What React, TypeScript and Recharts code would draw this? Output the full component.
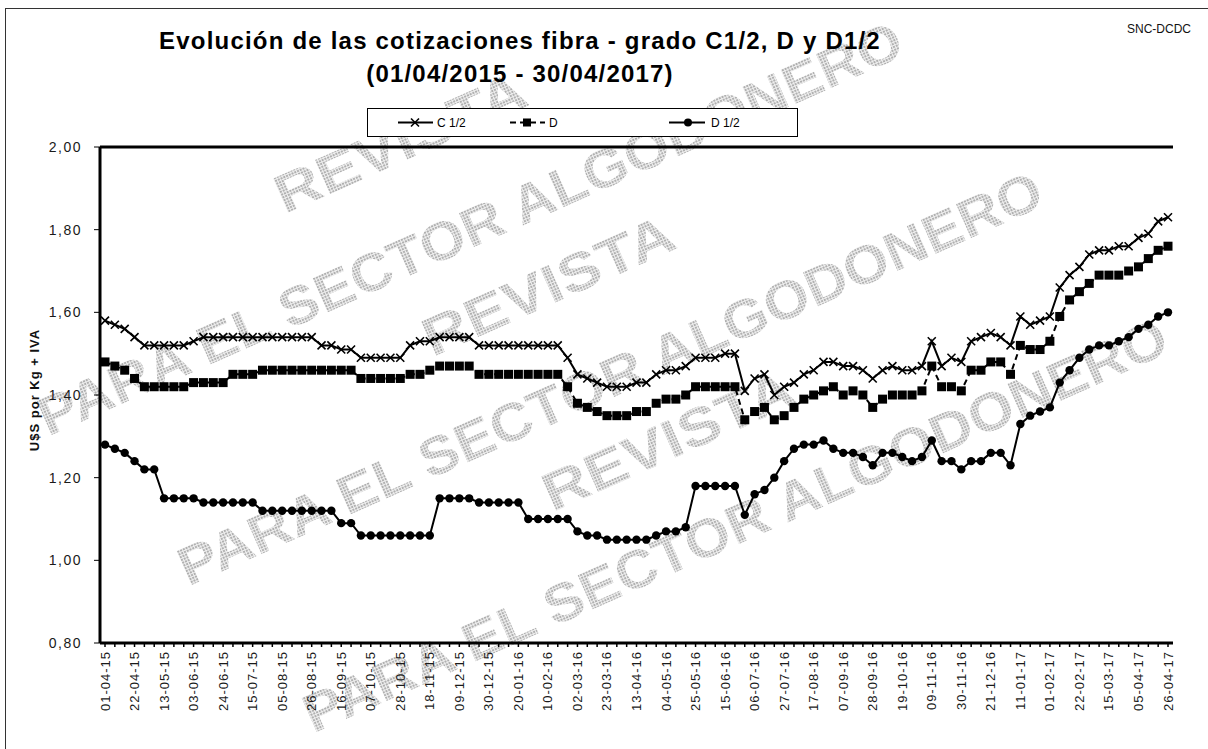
import React from "react";
import { LineChart, Line, XAxis, YAxis, CartesianGrid, ReferenceLine } from "recharts";

// weekly quotations, 01-04-15 .. 26-04-17
const fechas = [
  "01-04-15", "08-04-15", "15-04-15", "22-04-15", "29-04-15", "06-05-15", "13-05-15", "20-05-15", "27-05-15",
  "03-06-15", "10-06-15", "17-06-15", "24-06-15", "01-07-15", "08-07-15", "15-07-15", "22-07-15", "29-07-15",
  "05-08-15", "12-08-15", "19-08-15", "26-08-15", "02-09-15", "09-09-15", "16-09-15", "23-09-15", "30-09-15",
  "07-10-15", "14-10-15", "21-10-15", "28-10-15", "04-11-15", "11-11-15", "18-11-15", "25-11-15", "02-12-15",
  "09-12-15", "16-12-15", "23-12-15", "30-12-15", "06-01-16", "13-01-16", "20-01-16", "27-01-16", "03-02-16",
  "10-02-16", "17-02-16", "24-02-16", "02-03-16", "09-03-16", "16-03-16", "23-03-16", "30-03-16", "06-04-16",
  "13-04-16", "20-04-16", "27-04-16", "04-05-16", "11-05-16", "18-05-16", "25-05-16", "01-06-16", "08-06-16",
  "15-06-16", "22-06-16", "29-06-16", "06-07-16", "13-07-16", "20-07-16", "27-07-16", "03-08-16", "10-08-16",
  "17-08-16", "24-08-16", "31-08-16", "07-09-16", "14-09-16", "21-09-16", "28-09-16", "05-10-16", "12-10-16",
  "19-10-16", "26-10-16", "02-11-16", "09-11-16", "16-11-16", "23-11-16", "30-11-16", "07-12-16", "14-12-16",
  "21-12-16", "28-12-16", "04-01-17", "11-01-17", "18-01-17", "25-01-17", "01-02-17", "08-02-17", "15-02-17",
  "22-02-17", "01-03-17", "08-03-17", "15-03-17", "22-03-17", "29-03-17", "05-04-17", "12-04-17", "19-04-17",
  "26-04-17",
];

const gradoC12 = [
  1.58, 1.57, 1.56, 1.54, 1.52, 1.52, 1.52, 1.52, 1.52, 1.53,
  1.54, 1.54, 1.54, 1.54, 1.54, 1.54, 1.54, 1.54, 1.54, 1.54, 1.54, 1.54,
  1.52, 1.52, 1.51, 1.51,
  1.49, 1.49, 1.49, 1.49, 1.49,
  1.52, 1.53, 1.53,
  1.54, 1.54, 1.54, 1.54,
  1.52, 1.52, 1.52, 1.52, 1.52, 1.52, 1.52, 1.52, 1.52,
  1.49, 1.45, 1.44, 1.43, 1.42, 1.42, 1.42, 1.43, 1.43, 1.45, 1.46, 1.46,
  1.47, 1.49, 1.49, 1.49, 1.50, 1.50, 1.41, 1.44, 1.45, 1.40, 1.42, 1.43,
  1.45, 1.46, 1.48, 1.48, 1.47, 1.47, 1.46, 1.44, 1.46, 1.47, 1.46, 1.46,
  1.47, 1.53, 1.47, 1.49, 1.48, 1.53, 1.54, 1.55, 1.54, 1.52, 1.59, 1.57,
  1.58, 1.59, 1.66, 1.69, 1.71, 1.74, 1.75, 1.75, 1.76, 1.76, 1.78, 1.79,
  1.82, 1.83,
];

const gradoD = [
  1.48, 1.47, 1.46, 1.44,
  1.42, 1.42, 1.42, 1.42, 1.42,
  1.43, 1.43, 1.43, 1.43,
  1.45, 1.45, 1.45,
  1.46, 1.46, 1.46, 1.46, 1.46, 1.46, 1.46, 1.46, 1.46, 1.46,
  1.44, 1.44, 1.44, 1.44, 1.44,
  1.45, 1.45, 1.46,
  1.47, 1.47, 1.47, 1.47,
  1.45, 1.45, 1.45, 1.45, 1.45, 1.45, 1.45, 1.45, 1.45,
  1.42, 1.38, 1.37, 1.36, 1.35, 1.35, 1.35, 1.36, 1.36, 1.38, 1.39, 1.39,
  1.40, 1.42, 1.42, 1.42, 1.42, 1.42, 1.34, 1.36, 1.37, 1.34, 1.35, 1.37,
  1.39, 1.40, 1.41, 1.42, 1.40, 1.41, 1.40, 1.37, 1.39, 1.40, 1.40, 1.40,
  1.41, 1.47, 1.42, 1.42, 1.41, 1.46, 1.46, 1.48, 1.48, 1.45, 1.52, 1.51,
  1.51, 1.53, 1.59, 1.63, 1.65, 1.67, 1.69, 1.69, 1.69, 1.70, 1.71, 1.73,
  1.75, 1.76,
];

const gradoD12 = [
  1.28, 1.27, 1.26, 1.24, 1.22, 1.22,
  1.15, 1.15, 1.15, 1.15,
  1.14, 1.14, 1.14, 1.14, 1.14, 1.14,
  1.12, 1.12, 1.12, 1.12, 1.12, 1.12, 1.12, 1.12,
  1.09, 1.09,
  1.06, 1.06, 1.06, 1.06, 1.06, 1.06, 1.06, 1.06,
  1.15, 1.15, 1.15, 1.15,
  1.14, 1.14, 1.14, 1.14, 1.14,
  1.10, 1.10, 1.10, 1.10, 1.10,
  1.07, 1.06, 1.06, 1.05, 1.05, 1.05, 1.05, 1.05, 1.06, 1.07, 1.07, 1.08,
  1.18, 1.18, 1.18, 1.18, 1.18, 1.11, 1.16, 1.17, 1.20, 1.24, 1.27, 1.28,
  1.28, 1.29, 1.27, 1.26, 1.26, 1.25, 1.23, 1.26, 1.26, 1.25, 1.24, 1.25,
  1.29, 1.24, 1.24, 1.22, 1.24, 1.24, 1.26, 1.26, 1.23, 1.33, 1.35, 1.36,
  1.37, 1.43, 1.46, 1.49, 1.51, 1.52, 1.52, 1.53, 1.54, 1.56, 1.57, 1.59,
  1.60,
];

const yTicks = [0.8, 1.0, 1.2, 1.4, 1.6, 1.8, 2.0];

const data = fechas.map((fecha, i) => ({
  fecha,
  c12: gradoC12[i],
  d: gradoD[i],
  d12: gradoD12[i],
}));

const FONT = '"Liberation Sans", Arial, Helvetica, sans-serif';

const CrossDot = (props: any) => {
  const { cx, cy, index } = props;
  if (cx == null || cy == null) return null;
  const s = 4;
  return (
    <path
      key={`c-${index}`}
      d={`M${cx - s},${cy - s}L${cx + s},${cy + s}M${cx - s},${cy + s}L${cx + s},${cy - s}`}
      stroke="#000"
      strokeWidth={1.6}
      fill="none"
    />
  );
};

const SquareDot = (props: any) => {
  const { cx, cy, index } = props;
  if (cx == null || cy == null) return null;
  return <rect key={`s-${index}`} x={cx - 4.5} y={cy - 4.5} width={9} height={9} fill="#000" />;
};

const CircleDot = (props: any) => {
  const { cx, cy, index } = props;
  if (cx == null || cy == null) return null;
  return <circle key={`o-${index}`} cx={cx} cy={cy} r={4.2} fill="#000" />;
};

const DateTick = (props: any) => {
  const { x, y, payload, index } = props;
  const i = index ?? payload?.index ?? 0;
  if (i % 3 !== 0) return null;
  return (
    <text
      x={x}
      y={y}
      dy={4.5}
      textAnchor="end"
      transform={`rotate(-90 ${x} ${y})`}
      fontSize={13}
      fontFamily={FONT}
      fill="#1a1a1a"
      style={{ letterSpacing: "1px" }}
    >
      {payload.value}
    </text>
  );
};

const ValueTick = (props: any) => {
  const { x, y, payload } = props;
  return (
    <text
      x={x}
      y={y}
      dy={5}
      textAnchor="end"
      fontSize={14}
      fontFamily={FONT}
      fill="#1a1a1a"
      style={{ letterSpacing: "1.5px" }}
    >
      {Number(payload.value).toFixed(2).replace(".", ",")}
    </text>
  );
};

// background watermark of the source publication
const watermark = [
  { text: "REVISTA", x: 400, y: 142, len: 270 },
  { text: "PARA EL SECTOR ALGODONERO", x: 470, y: 228, len: 940 },
  { text: "REVISTA", x: 548, y: 285, len: 270 },
  { text: "PARA EL SECTOR ALGODONERO", x: 610, y: 378, len: 940 },
  { text: "REVISTA", x: 668, y: 440, len: 270 },
  { text: "PARA EL SECTOR ALGODONERO", x: 735, y: 525, len: 940 },
];

const App = () => {
  return (
    <div
      style={{
        position: "absolute",
        left: 0,
        top: 0,
        width: 1208,
        height: 749,
        overflow: "hidden",
        background: "#fff",
        fontFamily: FONT,
      }}
    >
      <div
        style={{
          position: "absolute",
          left: 5,
          top: 8,
          width: 1300,
          height: 900,
          border: "1px solid #333",
        }}
      />

      <svg style={{ position: "absolute", left: 0, top: 0 }} width={1208} height={749}>
        <defs>
          <pattern id="wm" width={3} height={3} patternUnits="userSpaceOnUse">
            <rect width={3} height={3} fill="#efefef" />
            <rect width={2} height={2} fill="#b0b0b0" />
          </pattern>
        </defs>
        {watermark.map((w, i) => (
          <text
            key={i}
            x={w.x}
            y={w.y}
            textAnchor="middle"
            dominantBaseline="central"
            transform={`rotate(-24 ${w.x} ${w.y})`}
            fontSize={54}
            fontWeight="bold"
            fontFamily={FONT}
            fill="url(#wm)"
            textLength={w.len}
            lengthAdjust="spacingAndGlyphs"
          >
            {w.text}
          </text>
        ))}
      </svg>

      <div
        style={{
          position: "absolute",
          left: 0,
          top: 24,
          width: 1040,
          textAlign: "center",
          fontWeight: "bold",
          fontSize: 24,
          lineHeight: "33px",
          letterSpacing: "1.2px",
          color: "#000",
        }}
      >
        <div>Evolución de las cotizaciones fibra - grado C1/2, D y D1/2</div>
        <div>(01/04/2015 - 30/04/2017)</div>
      </div>

      <div
        style={{
          position: "absolute",
          left: 1127,
          top: 22,
          fontSize: 12,
          color: "#111",
        }}
      >
        SNC-DCDC
      </div>

      <div
        style={{
          position: "absolute",
          left: 34,
          top: 390,
          transform: "translate(-50%, -50%) rotate(-90deg)",
          fontSize: 13,
          fontWeight: "bold",
          letterSpacing: "1px",
          whiteSpace: "nowrap",
          color: "#111",
        }}
      >
        U$S por Kg + IVA
      </div>

      <div style={{ position: "absolute", left: 0, top: 0 }}>
        <LineChart
          width={1208}
          height={749}
          data={data}
          margin={{ top: 147, right: 35, bottom: 6, left: 40 }}
        >
          <CartesianGrid horizontal vertical={false} stroke="#333" strokeWidth={1} />
          <XAxis
            dataKey="fecha"
            interval={0}
            height={100}
            padding={{ left: 5, right: 5 }}
            tick={<DateTick />}
            tickSize={4}
            tickMargin={4}
            tickLine={{ stroke: "#000", strokeWidth: 1.5 }}
            axisLine={{ stroke: "#000", strokeWidth: 3 }}
          />
          <YAxis
            yAxisId="l"
            domain={[0.8, 2.0]}
            ticks={yTicks}
            width={60}
            tick={<ValueTick />}
            tickSize={6}
            tickMargin={12}
            tickLine={{ stroke: "#000" }}
            axisLine={{ stroke: "#000", strokeWidth: 3 }}
          />
          <YAxis
            yAxisId="r"
            orientation="right"
            domain={[0.8, 2.0]}
            width={0}
            tick={false}
            tickLine={false}
            axisLine={{ stroke: "#000", strokeWidth: 3 }}
          />
          <ReferenceLine yAxisId="l" y={2.0} stroke="#000" strokeWidth={3} />
          <Line
            yAxisId="l"
            dataKey="c12"
            name="C 1/2"
            stroke="#000"
            strokeWidth={2}
            dot={(p: any) => <CrossDot {...p} />}
            isAnimationActive={false}
          />
          <Line
            yAxisId="l"
            dataKey="d"
            name="D"
            stroke="#000"
            strokeWidth={2}
            strokeDasharray="6 4"
            dot={(p: any) => <SquareDot {...p} />}
            isAnimationActive={false}
          />
          <Line
            yAxisId="l"
            dataKey="d12"
            name="D 1/2"
            stroke="#000"
            strokeWidth={2}
            dot={(p: any) => <CircleDot {...p} />}
            isAnimationActive={false}
          />
        </LineChart>
      </div>

      <svg style={{ position: "absolute", left: 367, top: 108 }} width={431} height={29}>
        <rect x={0.5} y={0.5} width={430} height={28} fill="#fff" stroke="#000" />
        <line x1={31} y1={14.5} x2={66} y2={14.5} stroke="#000" strokeWidth={2} />
        <path d="M44,10.5L52,18.5M44,18.5L52,10.5" stroke="#000" strokeWidth={1.6} />
        <text x={70} y={18.5} fontSize={12} fontFamily={FONT}>C 1/2</text>
        <line x1={143} y1={14.5} x2={178} y2={14.5} stroke="#000" strokeWidth={2} strokeDasharray="6 4" />
        <rect x={156} y={10.5} width={8} height={8} fill="#000" />
        <text x={182} y={18.5} fontSize={12} fontFamily={FONT}>D</text>
        <line x1={302} y1={14.5} x2={338} y2={14.5} stroke="#000" strokeWidth={2} />
        <circle cx={321} cy={14.5} r={4} fill="#000" />
        <text x={344} y={18.5} fontSize={12} fontFamily={FONT}>D 1/2</text>
      </svg>
    </div>
  );
};

export default App;
